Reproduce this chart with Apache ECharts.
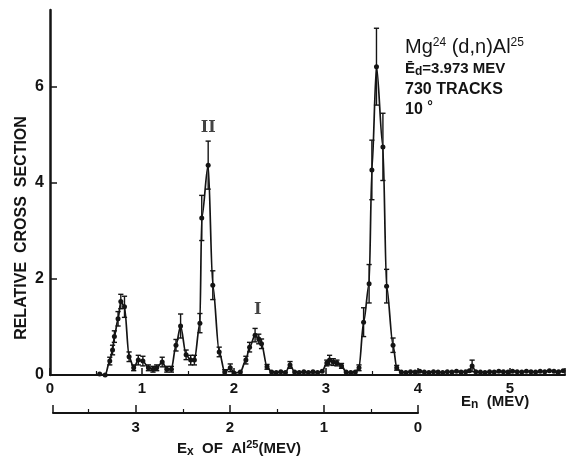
<!DOCTYPE html>
<html>
<head>
<meta charset="utf-8">
<script src="https://cdn.jsdelivr.net/npm/echarts@6/dist/echarts.min.js"></script>
<style>
html,body{margin:0;padding:0;background:#fff;}
#chart{width:566px;height:456px;}
</style>
</head>
<body>
<div id="chart"></div>
<script>
// Neutron energy En (MEV) of each measured point
const enValues = [
  0.54, 0.60, 0.65, 0.68, 0.70, 0.74, 0.77, 0.81, 0.86, 0.91,
  0.96, 1.01, 1.07, 1.12, 1.16, 1.22, 1.27, 1.32, 1.37, 1.42,
  1.48, 1.53, 1.57, 1.63, 1.65, 1.72, 1.77, 1.84, 1.90, 1.96,
  2.00, 2.07, 2.13, 2.17, 2.23, 2.27, 2.30, 2.36, 2.41, 2.46,
  2.51, 2.56, 2.61, 2.66, 2.71, 2.76, 2.81, 2.86, 2.91, 2.96,
  3.01, 3.04, 3.08, 3.12, 3.17, 3.22, 3.27, 3.32, 3.36, 3.41,
  3.47, 3.50, 3.55, 3.62, 3.66, 3.73, 3.77, 3.82, 3.87, 3.92,
  3.97, 4.02, 4.07, 4.12, 4.17, 4.22, 4.27, 4.32, 4.37, 4.42,
  4.47, 4.52, 4.56, 4.59, 4.63, 4.68, 4.73, 4.78, 4.83, 4.88,
  4.93, 4.98, 5.03, 5.08, 5.13, 5.18, 5.23, 5.28, 5.33, 5.38,
  5.43, 5.48, 5.53, 5.58
];
// Relative cross section of each point
const crossSection = [
  0.02, 0.00, 0.29, 0.52, 0.80, 1.17, 1.53, 1.42, 0.38, 0.15,
  0.31, 0.29, 0.15, 0.12, 0.15, 0.27, 0.12, 0.12, 0.62, 1.02,
  0.42, 0.31, 0.31, 1.08, 3.27, 4.37, 1.87, 0.48, 0.06, 0.15,
  0.04, 0.06, 0.31, 0.58, 0.83, 0.75, 0.65, 0.17, 0.06, 0.05,
  0.07, 0.05, 0.21, 0.06, 0.05, 0.07, 0.05, 0.07, 0.05, 0.08,
  0.25, 0.31, 0.27, 0.25, 0.19, 0.06, 0.05, 0.06, 0.15, 1.10,
  1.90, 4.27, 6.42, 4.75, 1.85, 0.62, 0.15, 0.06, 0.05, 0.07,
  0.06, 0.08, 0.06, 0.05, 0.07, 0.06, 0.05, 0.07, 0.06, 0.08,
  0.06, 0.07, 0.09, 0.19, 0.07, 0.06, 0.05, 0.07, 0.06, 0.08,
  0.07, 0.06, 0.08, 0.07, 0.06, 0.08, 0.07, 0.06, 0.08, 0.07,
  0.09, 0.08, 0.07, 0.09
];
// Statistical error (half length of each error bar)
const errorBars = [
  0.00, 0.00, 0.08, 0.10, 0.12, 0.15, 0.15, 0.22, 0.10, 0.06,
  0.10, 0.10, 0.06, 0.06, 0.06, 0.10, 0.06, 0.06, 0.12, 0.25,
  0.10, 0.10, 0.10, 0.20, 0.47, 0.50, 0.30, 0.10, 0.05, 0.08,
  0.00, 0.00, 0.08, 0.10, 0.14, 0.10, 0.10, 0.05, 0.00, 0.00,
  0.00, 0.00, 0.07, 0.00, 0.00, 0.00, 0.00, 0.00, 0.00, 0.00,
  0.06, 0.10, 0.07, 0.06, 0.05, 0.00, 0.00, 0.00, 0.06, 0.30,
  0.40, 0.62, 0.80, 0.70, 0.35, 0.15, 0.05, 0.00, 0.00, 0.00,
  0.00, 0.00, 0.00, 0.00, 0.00, 0.00, 0.00, 0.00, 0.00, 0.00,
  0.00, 0.00, 0.00, 0.12, 0.00, 0.00, 0.00, 0.00, 0.00, 0.00,
  0.00, 0.00, 0.00, 0.00, 0.00, 0.00, 0.00, 0.00, 0.00, 0.00,
  0.00, 0.00, 0.00, 0.00
];
// Peak labels
const peakNames = ['II', 'I'];
const peakNameEn = [1.72, 2.26];
const peakNameY = [5.15, 1.35];
// Axis tick values
const yTickValues = [0, 2, 4, 6];
const enTickValues = [0, 1, 2, 3, 4, 5];
const exTickValues = [0, 1, 2, 3];

const ink = '#141414';
const chart = echarts.init(document.getElementById('chart'), null, {renderer: 'canvas'});

const lineData = enValues.map((x, i) => [x, crossSection[i]]);
const errData = [];
enValues.forEach((x, i) => {
  if (errorBars[i] > 0) errData.push([x, crossSection[i] - errorBars[i], crossSection[i] + errorBars[i]]);
});
const labelData = peakNames.map((n, i) => ({value: [peakNameEn[i], peakNameY[i]], name: n}));

const option = {
  backgroundColor: '#fff',
  animation: false,
  grid: [
    {left: 50, right: 1, top: 10, bottom: 81},
    {left: 53, width: 365, top: 390, height: 23}
  ],
  xAxis: [
    {
      type: 'value', gridIndex: 0, min: 0, max: 5.6, interval: 1,
      axisLine: {lineStyle: {color: ink, width: 2}},
      axisTick: {inside: true, length: 7, lineStyle: {color: ink, width: 1.5}},
      minorTick: {show: true, splitNumber: 2, length: 4, lineStyle: {color: ink, width: 1.2}},
      splitLine: {show: false},
      axisLabel: {
        color: ink, fontSize: 15, fontWeight: 'bold', fontFamily: 'Liberation Sans', margin: 6,
        showMaxLabel: false,
        formatter: v => enTickValues.includes(v) ? String(v) : ''
      }
    },
    {
      type: 'value', gridIndex: 1, min: 0, max: 3.88, interval: 1, inverse: true,
      axisLine: {lineStyle: {color: ink, width: 2}},
      axisTick: {inside: true, length: 8, lineStyle: {color: ink, width: 1.5}},
      minorTick: {show: true, splitNumber: 2, length: 4, lineStyle: {color: ink, width: 1.2}},
      splitLine: {show: false},
      axisLabel: {
        color: ink, fontSize: 15, fontWeight: 'bold', fontFamily: 'Liberation Sans', margin: 7,
        showMaxLabel: false,
        formatter: v => exTickValues.includes(v) ? String(v) : ''
      }
    }
  ],
  yAxis: [
    {
      type: 'value', gridIndex: 0, min: 0, max: 7.6, interval: 2,
      axisLine: {show: true, lineStyle: {color: ink, width: 2.5}},
      axisTick: {show: true, inside: true, length: 7, lineStyle: {color: ink, width: 1.5}},
      splitLine: {show: false},
      axisLabel: {
        color: ink, fontSize: 16, fontWeight: 'bold', fontFamily: 'Liberation Sans', margin: 6,
        showMaxLabel: false,
        formatter: v => yTickValues.includes(v) ? String(v) : ''
      }
    },
    {type: 'value', gridIndex: 1, show: false, min: 0, max: 1}
  ],
  series: [
    {
      type: 'line', xAxisIndex: 0, yAxisIndex: 0, data: lineData,
      smooth: 0.3, smoothMonotone: 'x',
      symbol: 'circle', symbolSize: 5,
      itemStyle: {color: ink},
      lineStyle: {color: ink, width: 1.7}
    },
    {
      type: 'custom', xAxisIndex: 0, yAxisIndex: 0, data: errData,
      renderItem: function (params, api) {
        const x = api.value(0);
        const lo = api.coord([x, api.value(1)]);
        const hi = api.coord([x, api.value(2)]);
        const c = 2.6;
        const st = {stroke: ink, lineWidth: 1.4};
        return {type: 'group', children: [
          {type: 'line', shape: {x1: lo[0], y1: lo[1], x2: hi[0], y2: hi[1]}, style: st},
          {type: 'line', shape: {x1: hi[0] - c, y1: hi[1], x2: hi[0] + c, y2: hi[1]}, style: st},
          {type: 'line', shape: {x1: lo[0] - c, y1: lo[1], x2: lo[0] + c, y2: lo[1]}, style: st}
        ]};
      },
      z: 3
    },
    {
      type: 'scatter', xAxisIndex: 0, yAxisIndex: 0, data: labelData,
      symbolSize: 0,
      label: {
        show: true, position: 'inside', formatter: p => p.name,
        color: ink, fontSize: 16, fontWeight: 'bold', fontFamily: 'DejaVu Serif'
      }
    }
  ],
  graphic: [
    {
      type: 'text', left: 405, top: 37,
      style: {
        text: 'Mg{s|24} (d,n)Al{s|25}',
        fill: ink, font: '20px "Liberation Sans"',
        rich: {s: {fontSize: 12, verticalAlign: 'top', fill: ink, padding: [0, 0, 9, 0]}}
      }
    },
    {
      type: 'text', left: 405, top: 61,
      style: {
        text: 'Ē{d|d}=3.973 MEV',
        fill: ink, font: 'bold 15px "Liberation Sans"',
        rich: {d: {fontSize: 12, fontWeight: 'bold', fill: ink, padding: [6, 0, 0, 0]}}
      }
    },
    {
      type: 'text', left: 405, top: 82,
      style: {text: '730 TRACKS', fill: ink, font: 'bold 16px "Liberation Sans"'}
    },
    {
      type: 'text', left: 405, top: 100,
      style: {
        text: '10 {s|°}', fill: ink, font: 'bold 16px "Liberation Sans"',
        rich: {s: {fontSize: 14, fontWeight: 'bold', fill: ink, padding: [0, 0, 5, 0]}}
      }
    },
    {
      type: 'text', x: 22, y: 228, rotation: Math.PI / 2,
      style: {
        text: 'RELATIVE  CROSS  SECTION', fill: ink,
        font: 'bold 16px "Liberation Sans"', align: 'center', verticalAlign: 'middle'
      }
    },
    {
      type: 'text', left: 461, top: 394,
      style: {
        text: 'E{s|n}  (MEV)', fill: ink, font: 'bold 15px "Liberation Sans"',
        rich: {s: {fontSize: 12, fontWeight: 'bold', fill: ink, padding: [7, 0, 0, 0]}}
      }
    },
    {
      type: 'text', left: 177, top: 439,
      style: {
        text: 'E{x|x}  OF  Al{s|25}(MEV)', fill: ink, font: 'bold 15px "Liberation Sans"',
        rich: {
          x: {fontSize: 12, fontWeight: 'bold', fill: ink, padding: [7, 0, 0, 0]},
          s: {fontSize: 11, fontWeight: 'bold', fill: ink, padding: [0, 0, 8, 0]}
        }
      }
    }
  ]
};
chart.setOption(option);
</script>
</body>
</html>
